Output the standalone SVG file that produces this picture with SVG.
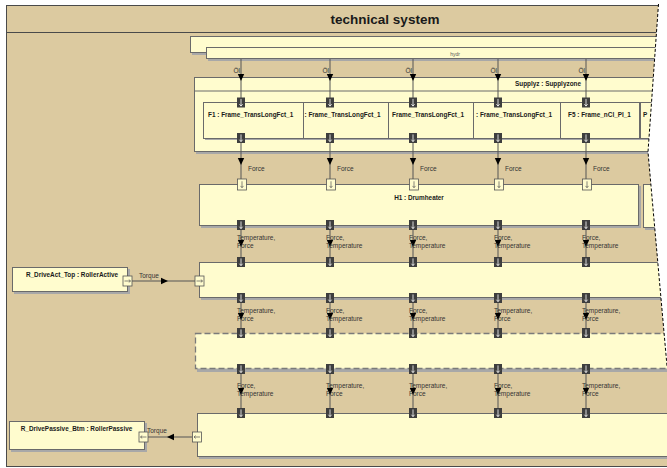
<svg xmlns="http://www.w3.org/2000/svg" xmlns:xlink="http://www.w3.org/1999/xlink" width="667" height="468" viewBox="0 0 667 468">
  <style>
    .frame { fill: #DCCAA0; stroke: #4a4a4a; stroke-width: 1; }
    .blk { fill: #FFFCCE; stroke: #6a6a6a; stroke-width: 1; }
    .shd { fill: #A8A8A8; }
    .dsh { fill: #FFFCCE; stroke: #7a7a7a; stroke-width: 1.3; stroke-dasharray: 6 3; }
    .con { stroke: #555; stroke-width: 1; fill: none; }
    .t { font-family: "Liberation Sans", Arial, sans-serif; fill: #1a1a1a; }
    .title { font-size: 13.5px; font-weight: bold; }
    .nm { font-size: 6.4px; font-weight: bold; }
    .lb { font-size: 6.5px; fill: #333; }
    .tiny { font-size: 5px; fill: #555; }
    .tear { fill: none; stroke: #000; stroke-width: 1; stroke-dasharray: 3 2; }
  </style>
  <defs>
    <!-- filled arrowhead, tip at origin, pointing down -->
    <path id="ahd" d="M-3.2,-7L3.2,-7L0,0Z" fill="#000"/>
    <!-- dark flow port with downward arrow -->
    <g id="pd">
      <rect x="-4" y="-5" width="8" height="10" fill="#3e3e3e"/>
      <path d="M0,-3.6V3.6M-1.6,1.7L0,3.6L1.6,1.7" stroke="#fff" stroke-width="0.8" fill="none"/>
    </g>
    <!-- light flow port with downward arrow -->
    <g id="pl">
      <rect x="-4.5" y="-5.5" width="9" height="11" fill="#FFFCCE" stroke="#555" stroke-width="0.8"/>
      <path d="M0,-3.2V3.2M-1.5,1.4L0,3.2L1.5,1.4" stroke="#555" stroke-width="0.7" fill="none"/>
    </g>
    <!-- light port with horizontal arrow to the right -->
    <g id="pr">
      <rect x="-4.5" y="-5" width="9" height="10" fill="#FFFCCE" stroke="#555" stroke-width="0.8"/>
      <path d="M-3,0H3M1.3,-1.4L3,0L1.3,1.4" stroke="#555" stroke-width="0.7" fill="none"/>
    </g>
    <!-- light port with horizontal arrow to the left -->
    <g id="pll">
      <rect x="-4.5" y="-5" width="9" height="10" fill="#FFFCCE" stroke="#555" stroke-width="0.8"/>
      <path d="M3,0H-3M-1.3,-1.4L-3,0L-1.3,1.4" stroke="#555" stroke-width="0.7" fill="none"/>
    </g>
  </defs>

  <rect width="667" height="468" fill="#fff"/>

  <!-- enclosing system frame -->
  <g id="technical_system">
    <rect class="frame" x="6.5" y="5.5" width="800" height="461"/>
    <line x1="6.5" y1="32.5" x2="806.5" y2="32.5" stroke="#4a4a4a" stroke-width="1"/>
    <text class="t title" x="385" y="24" text-anchor="middle">technical system</text>
  </g>

  <!-- hydraulic supply -->
  <g id="hydr">
    <rect class="shd" x="192" y="38" width="600" height="17"/>
    <rect class="blk" x="190.5" y="36.5" width="600" height="16"/>
    <rect class="shd" x="208" y="49" width="600" height="12"/>
    <rect class="blk" x="206.5" y="47.5" width="600" height="11"/>
    <text class="t tiny" x="455" y="56" text-anchor="middle">hydr</text>
  </g>

  <!-- supply zone with frame parts -->
  <g id="Supplyz">
    <rect class="shd" x="196" y="79" width="600" height="75"/>
    <rect class="blk" x="194.5" y="77.5" width="600" height="74"/>
    <line x1="194.5" y1="91" x2="794.5" y2="91" stroke="#6a6a6a"/>
    <text class="t nm" x="548" y="86" text-anchor="middle">Supplyz : Supplyzone</text>
    <rect class="shd" x="205" y="104" width="590" height="36"/>
    <g id="F1">
      <rect class="blk" x="203.5" y="102.5" width="100" height="36"/>
      <text class="t nm" x="208" y="117">F1 : Frame_TransLongFct_1</text>
    </g>
    <g id="F2">
      <rect class="blk" x="303.5" y="102.5" width="85" height="36"/>
      <text class="t nm" x="304.5" y="117">: Frame_TransLongFct_1</text>
    </g>
    <g id="F3">
      <rect class="blk" x="388.5" y="102.5" width="85" height="36"/>
      <text class="t nm" x="392" y="117">Frame_TransLongFct_1</text>
    </g>
    <g id="F4">
      <rect class="blk" x="473.5" y="102.5" width="87" height="36"/>
      <text class="t nm" x="476" y="117">: Frame_TransLongFct_1</text>
    </g>
    <g id="F5">
      <rect class="blk" x="560.5" y="102.5" width="79" height="36"/>
      <text class="t nm" x="568" y="117">F5 : Frame_nCl_Pl_1</text>
    </g>
    <g id="F6">
      <rect class="blk" x="640.5" y="102.5" width="60" height="36"/>
      <text class="t nm" x="643" y="117">P</text>
    </g>
  </g>

  <!-- heater -->
  <g id="H1">
    <rect class="shd" x="201" y="186" width="440" height="42"/>
    <rect class="blk" x="199.5" y="184.5" width="439" height="41"/>
    <text class="t nm" x="419" y="200" text-anchor="middle">H1 : Drumheater</text>
  </g>
  <g id="H2">
    <rect class="shd" x="645" y="186" width="60" height="44"/>
    <rect class="blk" x="643.5" y="184.5" width="60" height="43"/>
  </g>

  <!-- top roller block -->
  <g id="RollerTop">
    <rect class="shd" x="201" y="264" width="600" height="36"/>
    <rect class="blk" x="199.5" y="262.5" width="600" height="35"/>
  </g>

  <!-- optional drum block -->
  <g id="Drum">
    <rect class="shd" x="197" y="335" width="600" height="37"/>
    <rect class="dsh" x="195.5" y="333.5" width="600" height="35"/>
  </g>

  <!-- bottom roller block -->
  <g id="RollerBtm">
    <rect class="shd" x="199" y="415" width="600" height="44"/>
    <rect class="blk" x="197.5" y="413.5" width="600" height="43"/>
  </g>

  <!-- drives -->
  <g id="R_DriveAct_Top">
    <rect class="shd" x="14" y="269" width="116" height="25"/>
    <rect class="blk" x="12.5" y="267.5" width="115" height="24"/>
    <text class="t nm" x="72" y="277" text-anchor="middle">R_DriveAct_Top : RollerActive</text>
  </g>
  <g id="R_DrivePassive_Btm">
    <rect class="shd" x="11" y="423" width="136" height="29"/>
    <rect class="blk" x="9.5" y="421.5" width="135" height="28"/>
    <text class="t nm" x="76.5" y="431" text-anchor="middle">R_DrivePassive_Btm : RollerPassive</text>
  </g>

  <!-- connectors -->
  <g id="connectors">
    <!-- hydr to frame parts -->
    <path class="con" d="M241,59V98M330,59V98M413,59V98M498,59V98M586,59V98"/>
    <use href="#ahd" x="241" y="81"/><use href="#ahd" x="330" y="81"/><use href="#ahd" x="413" y="81"/><use href="#ahd" x="498" y="81"/><use href="#ahd" x="586" y="81"/>
    <g class="t lb" text-anchor="end">
      <text x="240" y="73">Öl</text><text x="329" y="73">Öl</text><text x="412" y="73">Öl</text><text x="497" y="73">Öl</text><text x="585" y="73">Öl</text>
    </g>
    <!-- frame parts to heater -->
    <path class="con" d="M241,143V179M330,143V179M413,143V179M498,143V179M586,143V179"/>
    <use href="#ahd" x="241" y="165"/><use href="#ahd" x="330" y="165"/><use href="#ahd" x="413" y="165"/><use href="#ahd" x="498" y="165"/><use href="#ahd" x="586" y="165"/>
    <g class="t lb">
      <text x="248" y="171">Force</text><text x="337" y="171">Force</text><text x="420" y="171">Force</text><text x="505" y="171">Force</text><text x="593" y="171">Force</text>
    </g>
    <!-- heater to top roller -->
    <path class="con" d="M241,230V257M330,230V257M413,230V257M498,230V257M586,230V257"/>
    <use href="#ahd" x="241" y="247"/><use href="#ahd" x="330" y="247"/><use href="#ahd" x="413" y="247"/><use href="#ahd" x="498" y="247"/><use href="#ahd" x="586" y="247"/>
    <g class="t lb">
      <text x="237" y="240">Temperature,</text><text x="237" y="248">Force</text>
      <text x="326" y="240">Force,</text><text x="326" y="248">Temperature</text>
      <text x="409" y="240">Force,</text><text x="409" y="248">Temperature</text>
      <text x="494" y="240">Force,</text><text x="494" y="248">Temperature</text>
      <text x="582" y="240">Force,</text><text x="582" y="248">Temperature</text>
    </g>
    <!-- top roller to drum -->
    <path class="con" d="M241,303V328M330,303V328M413,303V328M498,303V328M586,303V328"/>
    <use href="#ahd" x="241" y="320"/><use href="#ahd" x="330" y="320"/><use href="#ahd" x="413" y="320"/><use href="#ahd" x="498" y="320"/><use href="#ahd" x="586" y="320"/>
    <g class="t lb">
      <text x="237" y="313">Temperature,</text><text x="237" y="321">Force</text>
      <text x="326" y="313">Force,</text><text x="326" y="321">Temperature</text>
      <text x="409" y="313">Force,</text><text x="409" y="321">Temperature</text>
      <text x="494" y="313">Temperature,</text><text x="494" y="321">Force</text>
      <text x="582" y="313">Temperature,</text><text x="582" y="321">Force</text>
    </g>
    <!-- drum to bottom roller -->
    <path class="con" d="M241,374V408M330,374V408M413,374V408M498,374V408M586,374V408"/>
    <use href="#ahd" x="241" y="395"/><use href="#ahd" x="330" y="395"/><use href="#ahd" x="413" y="395"/><use href="#ahd" x="498" y="395"/><use href="#ahd" x="586" y="395"/>
    <g class="t lb">
      <text x="237" y="388">Force,</text><text x="237" y="396">Temperature</text>
      <text x="326" y="388">Temperature,</text><text x="326" y="396">Force</text>
      <text x="409" y="388">Temperature,</text><text x="409" y="396">Force</text>
      <text x="494" y="388">Force,</text><text x="494" y="396">Temperature</text>
      <text x="582" y="388">Temperature,</text><text x="582" y="396">Force</text>
    </g>
    <!-- torque links -->
    <path class="con" d="M132,281H195"/>
    <path d="M161,277.8L168,281L161,284.2Z" fill="#000"/>
    <text class="t lb" x="139" y="278">Torque</text>
    <path class="con" d="M148,437H192"/>
    <path d="M174,433.8L167,437L174,440.2Z" fill="#000"/>
    <text class="t lb" x="147" y="433">Torque</text>
  </g>

  <!-- ports -->
  <g id="ports">
    <use href="#pd" x="241" y="102.5"/><use href="#pd" x="330" y="102.5"/><use href="#pd" x="413" y="102.5"/><use href="#pd" x="498" y="102.5"/><use href="#pd" x="586" y="102.5"/>
    <use href="#pd" x="241" y="138"/><use href="#pd" x="330" y="138"/><use href="#pd" x="413" y="138"/><use href="#pd" x="498" y="138"/><use href="#pd" x="586" y="138"/>
    <use href="#pl" x="242" y="184.5"/><use href="#pl" x="331" y="184.5"/><use href="#pl" x="414" y="184.5"/><use href="#pl" x="499" y="184.5"/><use href="#pl" x="587" y="184.5"/>
    <use href="#pd" x="241" y="225"/><use href="#pd" x="330" y="225"/><use href="#pd" x="413" y="225"/><use href="#pd" x="498" y="225"/><use href="#pd" x="586" y="225"/>
    <use href="#pd" x="241" y="262"/><use href="#pd" x="330" y="262"/><use href="#pd" x="413" y="262"/><use href="#pd" x="498" y="262"/><use href="#pd" x="586" y="262"/>
    <use href="#pd" x="241" y="298"/><use href="#pd" x="330" y="298"/><use href="#pd" x="413" y="298"/><use href="#pd" x="498" y="298"/><use href="#pd" x="586" y="298"/>
    <use href="#pd" x="241" y="333"/><use href="#pd" x="330" y="333"/><use href="#pd" x="413" y="333"/><use href="#pd" x="498" y="333"/><use href="#pd" x="586" y="333"/>
    <use href="#pd" x="241" y="369"/><use href="#pd" x="330" y="369"/><use href="#pd" x="413" y="369"/><use href="#pd" x="498" y="369"/><use href="#pd" x="586" y="369"/>
    <use href="#pd" x="241" y="413"/><use href="#pd" x="330" y="413"/><use href="#pd" x="413" y="413"/><use href="#pd" x="498" y="413"/><use href="#pd" x="586" y="413"/>
    <use href="#pr" x="127.5" y="281"/>
    <use href="#pr" x="199.5" y="281"/>
    <use href="#pll" x="143.5" y="437"/>
    <use href="#pll" x="197" y="437"/>
  </g>

  <!-- torn right edge -->
  <path d="M658,0H667V366L648,152L658.5,4Z" fill="#fff"/>
  <path class="tear" d="M658.5,4L648,152L667,366"/>
</svg>
